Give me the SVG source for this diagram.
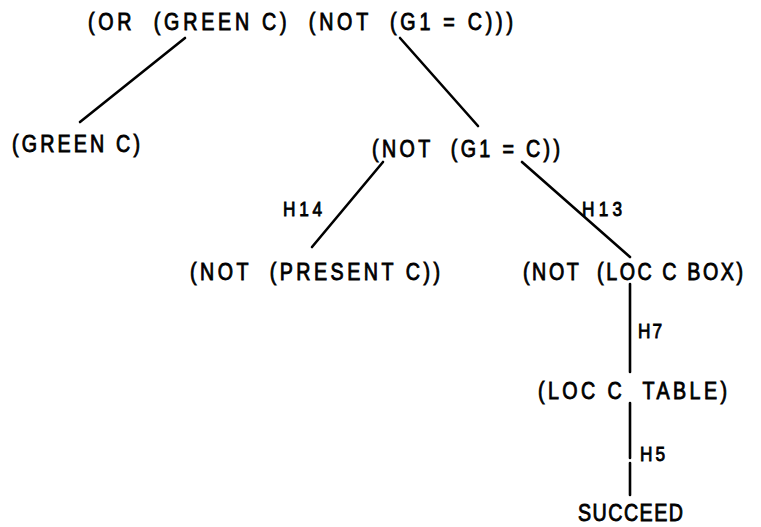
<svg xmlns="http://www.w3.org/2000/svg" width="761" height="527" viewBox="0 0 761 527">
  <style>
    .lbl { font-family: "Liberation Sans", "DejaVu Sans", sans-serif; font-size: 24px; fill: #000; stroke: #000; stroke-width: 0.9; white-space: pre; }
    .hl { font-size: 21px; }
    .edge { stroke: #000; stroke-width: 2.6; stroke-linecap: round; fill: none; }
  </style>
  <rect width="761" height="527" fill="#fff"/>

  <!-- connectors between goals -->
  <g id="edges">
    <line class="edge" x1="185" y1="38" x2="80" y2="122"/>
    <line class="edge" x1="400" y1="38" x2="478" y2="126"/>
    <line class="edge" x1="383" y1="162" x2="312" y2="247"/>
    <line class="edge" x1="522" y1="162" x2="630" y2="257"/>
    <line class="edge" x1="630" y1="284" x2="630" y2="372"/>
    <line class="edge" x1="630" y1="403" x2="630" y2="458"/>
    <line class="edge" x1="630" y1="463" x2="630" y2="495"/>
    <!-- rule labels, drawn in a horizontally condensed frame -->
    <g transform="scale(0.82,1)">
      <text class="lbl hl" x="345.1" y="216" textLength="47.6" lengthAdjust="spacing">H14</text>
      <text class="lbl hl" x="709.8" y="216" textLength="48.8" lengthAdjust="spacing">H13</text>
      <text class="lbl hl" x="778" y="338" textLength="29.3" lengthAdjust="spacing">H7</text>
      <text class="lbl hl" x="780.5" y="461" textLength="30.5" lengthAdjust="spacing">H5</text>
    </g>
  </g>

  <!-- goal nodes (condensed glyphs, x in scaled units) -->
  <g transform="scale(0.82,1)">
    <g id="root"><text class="lbl" x="107.3" y="30" textLength="518.3" lengthAdjust="spacing">(OR  (GREEN C)  (NOT  (G1 = C)))</text></g>
    <g id="green"><text class="lbl" x="14.6" y="152" textLength="156.1" lengthAdjust="spacing">(GREEN C)</text></g>
    <g id="not-g1"><text class="lbl" x="453.7" y="157" textLength="229.3" lengthAdjust="spacing">(NOT  (G1 = C))</text></g>
    <g id="not-present"><text class="lbl" x="231.7" y="280" textLength="304.9" lengthAdjust="spacing">(NOT  (PRESENT C))</text></g>
    <g id="not-loc-box"><text class="lbl" x="637.8" y="280" textLength="268.3" lengthAdjust="spacing">(NOT  (LOC C BOX)</text></g>
    <g id="loc-table"><text class="lbl" x="656.1" y="399" textLength="230.5" lengthAdjust="spacing">(LOC C  TABLE)</text></g>
    <g id="succeed"><text class="lbl" x="704.9" y="521" textLength="128" lengthAdjust="spacing">SUCCEED</text></g>
  </g>
</svg>
